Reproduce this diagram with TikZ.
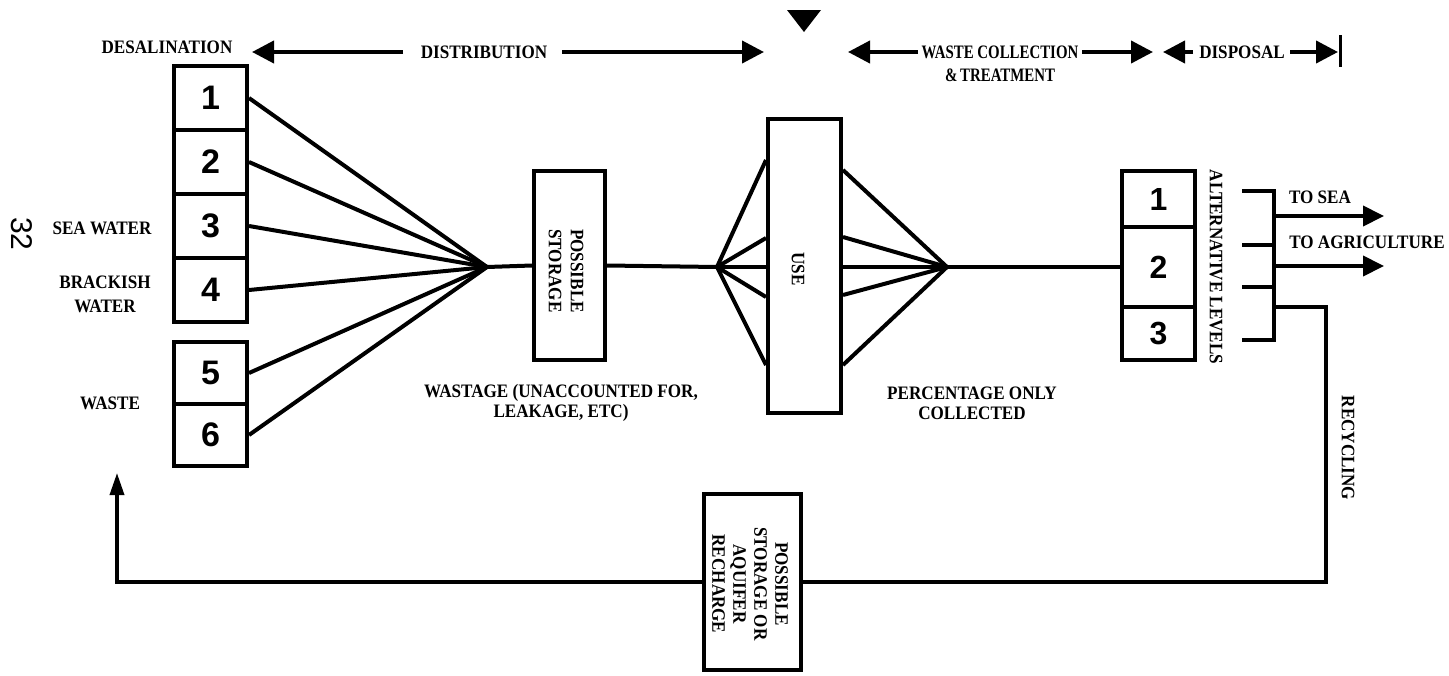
\documentclass[tikz,border=0pt]{standalone}
\usepackage{fontspec}
\setmainfont{Liberation Serif}[FakeStretch=0.9]
\newfontfamily\digitfont{Liberation Sans}
\usetikzlibrary{arrows.meta}
\begin{document}
\begin{tikzpicture}[x=1pt,y=-1pt,
  lbl/.style={font=\fontsize{19}{20}\selectfont\bfseries, inner sep=0pt, align=center},
  vlbl/.style={lbl, rotate=-90},
  box/.style={draw, line width=4pt, inner sep=0pt, fill=white},
  num/.style={box, minimum width=73pt, font=\digitfont\bfseries\fontsize{34}{34}\selectfont},
  ln/.style={line width=4pt, line join=miter},
  arr/.style={line width=4pt, -{Triangle[length=22pt,width=22pt]}},
  arrs/.style={line width=4pt, -{Triangle[length=21pt,width=20pt]}},
  arrb/.style={line width=3.5pt, line join=miter, -{Triangle[length=22pt,width=14pt]}}
]
\useasboundingbox (0,0) rectangle (1449,675);

% page number
\node[font=\digitfont\fontsize{30}{30}\selectfont, rotate=-90, inner sep=0pt] (pg) at (22,234) {32};

% ---- top row ----
\node[lbl] (desal) at (167,47) {DESALINATION};
\node[lbl] (distr) at (484,52) {DISTRIBUTION};
\node[lbl] (wcoll) at (1000,52) {\scalebox{0.87}[1]{WASTE COLLECTION}};
\node[lbl] (wtreat) at (1000,75) {\scalebox{0.87}[1]{\&\,TREATMENT}};
\node[lbl] (disp) at (1242,52) {DISPOSAL};
\coordinate (t1) at (403,52);  \coordinate (t1e) at (252,52);
\coordinate (t2) at (562,52);  \coordinate (t2e) at (764,52);
\coordinate (t3) at (918,52);  \coordinate (t3e) at (848,52);
\coordinate (t4) at (1082,52); \coordinate (t4e) at (1153,52);
\coordinate (t5) at (1193,52); \coordinate (t5e) at (1163,52);
\coordinate (t6) at (1290,52); \coordinate (t6e) at (1338,52);
\draw[arr] (t1) -- (t1e);
\draw[arr] (t2) -- (t2e);
\draw[arr] (t3) -- (t3e);
\draw[arr] (t4) -- (t4e);
\draw[arr] (t5) -- (t5e);
\draw[arr] (t6) -- (t6e);
\draw[line width=3pt] (1340,35) -- (1340,67);
\fill (787,10) -- (821,10) -- (804,32) -- cycle;

% ---- sources ----
\node[num, minimum height=64pt] (d1) at (210.5,98) {1};
\node[num, minimum height=64pt] (d2) at (210.5,162) {2};
\node[num, minimum height=64pt] (d3) at (210.5,226) {3};
\node[num, minimum height=64pt] (d4) at (210.5,290) {4};
\node[num, minimum height=62pt] (d5) at (210.5,373) {5};
\node[num, minimum height=62pt] (d6) at (210.5,435) {6};
\node[lbl] (sea) at (102,228) {SEA WATER};
\node[lbl, font=\fontsize{19}{24}\selectfont\bfseries] (brack) at (105,294) {BRACKISH\\WATER};
\node[lbl] (waste) at (110,403) {WASTE};

\coordinate (f1) at (487,267);
\foreach \i in {1,...,6} \draw[ln] (d\i.east) -- (f1);

% ---- storage ----
\node[box, minimum width=71pt, minimum height=189pt] (st) at (569.5,265.5) {};
\node[vlbl, font=\fontsize{19}{22}\selectfont\bfseries] (sttxt) at (566,271) {POSSIBLE\\STORAGE};
\draw[ln] (f1) -- (st.west);
\coordinate (f2) at (717,267);
\draw[ln] (st.east) -- (f2);
\node[lbl] (wastage) at (561,403) {WASTAGE (UNACCOUNTED FOR,\\LEAKAGE, ETC)};

% ---- use ----
\node[box, minimum width=73pt, minimum height=294pt] (use) at (804.5,266) {};
\node[vlbl] (usetxt) at (798,269) {USE};
\foreach \y in {160,238,267,297,365} \draw[ln] (f2) -- (use.west |- 0,\y);
\coordinate (f3) at (947,267);
\foreach \y in {170,237,267,295,365} \draw[ln] (use.east |- 0,\y) -- (f3);
\node[lbl] (perc) at (972,403) {PERCENTAGE ONLY\\COLLECTED};

% ---- alternative levels ----
\node[num, minimum height=56pt, font=\digitfont\bfseries\fontsize{32}{32}\selectfont] (a1) at (1158.5,199) {1};
\node[num, minimum height=80pt, font=\digitfont\bfseries\fontsize{32}{32}\selectfont] (a2) at (1158.5,267) {2};
\node[num, minimum height=53pt, font=\digitfont\bfseries\fontsize{32}{32}\selectfont] (a3) at (1158.5,333.5) {3};
\draw[ln] (f3) -- (a2.west);
\node[vlbl] (alt) at (1216,267) {ALTERNATIVE LEVELS};

\coordinate (s1) at (1242,191);
\coordinate (s2) at (1242,245);
\coordinate (s3) at (1242,287);
\coordinate (s4) at (1242,340);
\coordinate (b1) at (1274,191);
\coordinate (b4) at (1274,340);
\draw[ln] (s1) -- (b1) -- (b4) -- (s4);
\draw[ln] (s2) -- (s2 -| b1);
\draw[ln] (s3) -- (s3 -| b1);
\coordinate (toSea) at (1384,216);
\coordinate (toAgri) at (1384,266);
\draw[arrs] (toSea -| b1) -- (toSea);
\draw[arrs] (toAgri -| b1) -- (toAgri);
\node[lbl] (seatxt) at (1320,197) {TO SEA};
\node[lbl] (agritxt) at (1367,242) {TO AGRICULTURE};

% ---- recycling ----
\node[box, minimum width=97pt, minimum height=176pt] (bb) at (752.5,582) {};
\node[vlbl, font=\fontsize{19}{21}\selectfont\bfseries] (bbtxt) at (750,584) {POSSIBLE\\STORAGE OR\\AQUIFER\\RECHARGE};
\coordinate (r0) at (1274,307);
\coordinate (r1) at (1326,307);
\coordinate (r2) at (1326,582);
\coordinate (r3) at (117,582);
\coordinate (r4) at (117,473);
\draw[line width=3.5pt, line join=miter] (r0) -- (r1) -- (r2) -- (bb.east);
\draw[arrb] (bb.west) -- (r3) -- (r4);
\node[vlbl] (recyc) at (1348,448) {RECYCLING};
\end{tikzpicture}
\end{document}
